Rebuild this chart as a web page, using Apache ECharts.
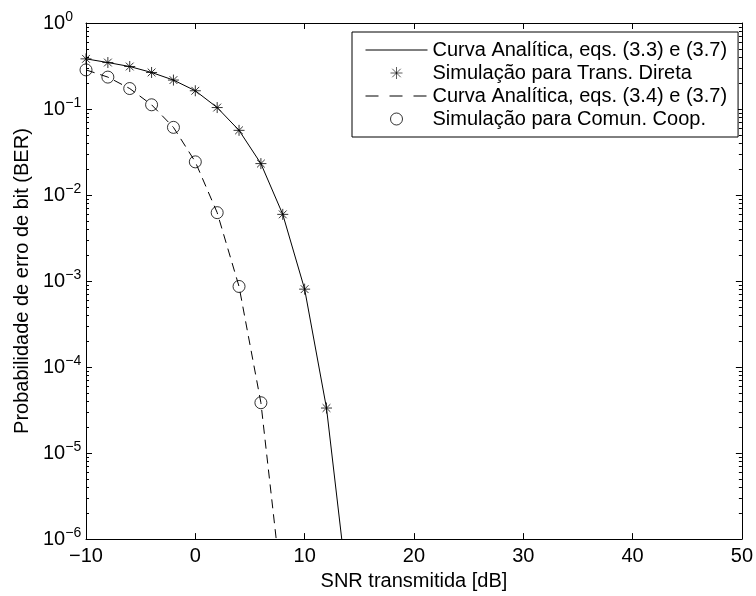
<!DOCTYPE html>
<html>
<head>
<meta charset="utf-8">
<script src="https://cdn.jsdelivr.net/npm/echarts@6/dist/echarts.min.js"></script>
<style>html,body{margin:0;padding:0;background:#fff;}#chart{width:756px;height:596px;}</style>
</head>
<body>
<div id="chart"></div>
<script>
// ---- data ----
const snrDirect = [-10, -8, -6, -4, -2, 0, 2, 4, 6, 8, 10, 12];
const simDirect = [0.383, 0.347, 0.312, 0.266, 0.217, 0.163, 0.104, 0.0565, 0.0232, 0.00596, 0.000805, 3.34e-5];
const snrDirectAnalytic = [-10, -8, -6, -4, -2, 0, 2, 4, 6, 8, 10, 12, 14];
const analyticDirect = [0.383, 0.347, 0.312, 0.266, 0.217, 0.163, 0.104, 0.0565, 0.0232, 0.00596, 0.000805, 3.34e-5, 2.2e-7];
const snrCoop = [-10, -8, -6, -4, -2, 0, 2, 4, 6];
const simCoop = [0.285, 0.235, 0.173, 0.112, 0.0612, 0.0243, 0.00624, 0.000865, 3.85e-5];
const snrCoopAnalytic = [-10, -8, -6, -4, -2, 0, 2, 4, 6, 8];
const analyticCoop = [0.285, 0.235, 0.173, 0.112, 0.0612, 0.0243, 0.00624, 0.000865, 3.85e-5, 2.1e-7];
const legendNames = ['Curva Analítica, eqs. (3.3) e (3.7)', 'Simulação para Trans. Direta', 'Curva Analítica, eqs. (3.4) e (3.7)', 'Simulação para Comun. Coop.'];
const xTicks = {min: -10, max: 50, interval: 10};
const yRange = {min: 1e-6, max: 1};

const FONT = 'Liberation Sans, Arial, Helvetica, sans-serif';
const FS = 20;
const pairs = (xs, ys) => xs.map((x, i) => [x, ys[i]]);

// minor tick positions of the log axis (2..9 x 10^n)
const minorVals = [];
for (let n = -6; n < 0; n++) for (let k = 2; k <= 9; k++) minorVals.push([xTicks.min, k * Math.pow(10, n)]);

const starPath = 'path://M0,-10L0,10M-10,0L10,0M-7.07,-7.07L7.07,7.07M-7.07,7.07L7.07,-7.07';

const chart = echarts.init(document.getElementById('chart'), null, {renderer: 'canvas'});
const yLabelFmt = v => {
  const e = Math.round(Math.log10(v));
  return '{b|10}{e|' + (e < 0 ? '\u2212' + (-e) : e) + '}';
};
const axisLineStyle = {show: true, onZero: false, lineStyle: {color: '#000', width: 1}};
const hiddenLegendMarker = {color: 'transparent', borderColor: 'transparent', borderWidth: 0};
chart.setOption({
  animation: false,
  backgroundColor: '#fff',
  grid: {left: 86, right: 13, top: 23, bottom: 55, containLabel: false},
  legend: {
    left: 352, top: 32, orient: 'vertical',
    itemWidth: 62, itemHeight: 12, itemGap: 3,
    padding: [8, 11, 8, 13],
    borderColor: '#000', borderWidth: 1, backgroundColor: '#fff', borderRadius: 0,
    textStyle: {fontSize: FS, fontFamily: FONT, color: '#000'},
    data: [
      {name: legendNames[0], itemStyle: hiddenLegendMarker, lineStyle: {type: 'solid', color: '#000', width: 1}},
      {name: legendNames[1], itemStyle: {color: 'transparent', borderColor: '#000', borderWidth: 0.8}},
      {name: legendNames[2], itemStyle: hiddenLegendMarker, lineStyle: {type: [13, 11], color: '#000', width: 1}},
      {name: legendNames[3], itemStyle: {color: 'transparent', borderColor: '#000', borderWidth: 1}}
    ],
    selectedMode: false
  },
  xAxis: [
    {
      type: 'value', position: 'bottom', min: xTicks.min, max: xTicks.max, interval: xTicks.interval,
      axisLine: axisLineStyle, splitLine: {show: false},
      axisTick: {inside: true, length: 6, lineStyle: {color: '#000'}},
      axisLabel: {color: '#000', fontSize: FS, fontFamily: FONT, margin: 7,
        formatter: v => String(v).replace('-', '\u2212')},
      name: 'SNR transmitida [dB]', nameLocation: 'middle', nameGap: 30,
      nameTextStyle: {fontSize: FS, fontFamily: FONT, color: '#000'}
    },
    {
      type: 'value', position: 'top', min: xTicks.min, max: xTicks.max, interval: xTicks.interval,
      axisLine: axisLineStyle, splitLine: {show: false},
      axisTick: {inside: true, length: 6, lineStyle: {color: '#000'}},
      axisLabel: {show: false}
    }
  ],
  yAxis: [
    {
      type: 'log', logBase: 10, position: 'left', min: yRange.min, max: yRange.max,
      axisLine: axisLineStyle, splitLine: {show: false},
      axisTick: {inside: true, length: 6, lineStyle: {color: '#000'}},
      axisLabel: {color: '#000', fontFamily: FONT, margin: 43, align: 'left', formatter: yLabelFmt,
        rich: {b: {fontSize: FS, fontFamily: FONT, color: '#000'},
               e: {fontSize: 14, fontFamily: FONT, color: '#000', padding: [0, 0, 12, 0]}}},
      name: 'Probabilidade de erro de bit (BER)', nameLocation: 'middle', nameGap: 53,
      nameTextStyle: {fontSize: FS, fontFamily: FONT, color: '#000'}
    },
    {
      type: 'log', logBase: 10, position: 'right', min: yRange.min, max: yRange.max,
      axisLine: axisLineStyle, splitLine: {show: false},
      axisTick: {inside: true, length: 6, lineStyle: {color: '#000'}},
      axisLabel: {show: false}
    }
  ],
  series: [
    {
      name: legendNames[0], type: 'line', data: pairs(snrDirectAnalytic, analyticDirect),
      showSymbol: false, symbol: 'none', clip: true, silent: true,
      lineStyle: {color: '#000', width: 1, type: 'solid'}, itemStyle: {color: '#000'}
    },
    {
      name: legendNames[1], type: 'scatter', data: pairs(snrDirect, simDirect),
      symbol: starPath, symbolSize: 11, silent: true,
      itemStyle: {color: 'transparent', borderColor: '#000', borderWidth: 1}
    },
    {
      name: legendNames[2], type: 'line', data: pairs(snrCoopAnalytic, analyticCoop),
      showSymbol: false, symbol: 'none', clip: true, silent: true,
      lineStyle: {color: '#000', width: 1, type: [9, 6]}, itemStyle: {color: '#000'}
    },
    {
      name: legendNames[3], type: 'scatter', data: pairs(snrCoop, simCoop),
      symbol: 'circle', symbolSize: 12, silent: true,
      itemStyle: {color: 'transparent', borderColor: '#000', borderWidth: 1}
    },
    {
      name: 'minorTicks', type: 'custom', data: minorVals, silent: true, z: 1,
      renderItem: (params, api) => {
        const p = api.coord([api.value(0), api.value(1)]);
        const cs = params.coordSys;
        const y = Math.round(p[1]) + 0.5;
        return {type: 'group', children: [
          {type: 'line', shape: {x1: cs.x, y1: y, x2: cs.x + 3, y2: y}, style: {stroke: '#000', lineWidth: 1}},
          {type: 'line', shape: {x1: cs.x + cs.width, y1: y, x2: cs.x + cs.width - 3, y2: y}, style: {stroke: '#000', lineWidth: 1}}
        ]};
      }
    }
  ]
});
</script>
</body>
</html>
